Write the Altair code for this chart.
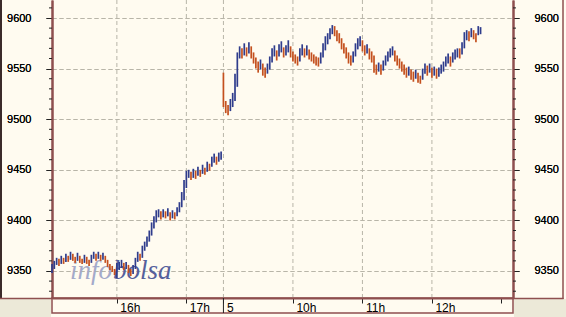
import altair as alt
import pandas as pd

# ---------------- data ----------------
# day 1 bars (2-minute bars), low / high
day1_lo = [9348, 9352, 9356, 9355, 9357, 9357, 9359, 9359, 9361, 9360,
           9358, 9360, 9358, 9357, 9358, 9357, 9355, 9358, 9362, 9360,
           9362, 9360, 9361, 9358, 9354, 9351, 9349, 9346, 9343, 9351,
           9353, 9351, 9352, 9348, 9345, 9347, 9352, 9359, 9360, 9363,
           9370, 9374, 9379, 9385, 9392, 9398, 9403, 9401, 9403, 9402,
           9404, 9400, 9402, 9401, 9404, 9408, 9413, 9420, 9432, 9442,
           9440, 9442, 9441, 9444, 9443, 9446, 9445, 9448, 9449, 9453,
           9457, 9455, 9458, 9460]
day1_hi = [9357, 9360, 9363, 9362, 9365, 9363, 9367, 9365, 9369, 9367,
           9364, 9368, 9365, 9362, 9366, 9364, 9361, 9366, 9369, 9367,
           9369, 9366, 9368, 9365, 9361, 9357, 9355, 9352, 9358, 9359,
           9361, 9358, 9359, 9356, 9352, 9356, 9363, 9369, 9367, 9375,
           9379, 9384, 9390, 9398, 9404, 9410, 9411, 9409, 9411, 9409,
           9412, 9408, 9410, 9408, 9413, 9418, 9428, 9440, 9449, 9450,
           9448, 9451, 9449, 9453, 9450, 9455, 9452, 9458, 9456, 9463,
           9466, 9463, 9467, 9468]
# day 2 bars
day2_lo = [9512, 9506, 9504, 9508, 9512, 9518, 9532, 9560, 9560, 9563,
           9562, 9565, 9560, 9555, 9550, 9546, 9549, 9543, 9541, 9545,
           9549, 9556, 9562, 9558, 9562, 9566, 9561, 9563, 9566, 9561,
           9557, 9555, 9553, 9557, 9563, 9561, 9563, 9559, 9557, 9555,
           9553, 9552, 9555, 9561, 9568, 9574, 9579, 9584, 9582, 9577,
           9575, 9569, 9565, 9560, 9555, 9553, 9556, 9562, 9569, 9572,
           9567, 9563, 9565, 9559, 9556, 9546, 9544, 9547, 9544, 9548,
           9553, 9557, 9561, 9563, 9557, 9553, 9550, 9547, 9544, 9541,
           9543, 9539, 9537, 9540, 9536, 9535, 9539, 9545, 9543, 9546,
           9541, 9543, 9540, 9542, 9545, 9547, 9552, 9555, 9552, 9556,
           9559, 9561, 9560, 9564, 9570, 9578, 9577, 9581, 9579, 9576,
           9583, 9584]
day2_hi = [9546, 9518, 9514, 9520, 9526, 9545, 9566, 9572, 9570, 9575,
           9571, 9576, 9572, 9566, 9561, 9557, 9559, 9555, 9551, 9555,
           9562, 9570, 9573, 9568, 9574, 9577, 9571, 9573, 9578, 9572,
           9567, 9564, 9562, 9570, 9574, 9570, 9573, 9569, 9566, 9564,
           9562, 9561, 9566, 9575, 9582, 9585, 9590, 9593, 9592, 9588,
           9585, 9580, 9575, 9571, 9566, 9563, 9567, 9575, 9580, 9582,
           9578, 9573, 9574, 9570, 9567, 9563, 9554, 9556, 9554, 9558,
           9563, 9567, 9570, 9572, 9568, 9563, 9560, 9557, 9554, 9551,
           9552, 9549, 9547, 9549, 9546, 9543, 9550, 9555, 9553, 9555,
           9551, 9552, 9550, 9551, 9554, 9557, 9562, 9565, 9562, 9566,
           9569, 9570, 9570, 9576, 9586, 9588, 9587, 9590, 9588, 9585,
           9592, 9591]

# time axis (minutes on a compressed session timeline)
day1_start = 0
day2_start = 148
bar_step = 2
x_domain = [0, 398]
tick_t = [56, 116, 148, 208, 268, 328, 388]
tick_lab = ["16h", "17h", "5", "10h", "11h", "12h", ""]
grid_t = [56, 116, 148, 208, 268, 328]
session_mark = [148]

y_domain = [9323.3, 9617.8]
y_major = [9350, 9400, 9450, 9500, 9550, 9600]
y_minor = [v for v in range(9330, 9620, 10) if v % 50 != 0]

# ---------------- styles ----------------
BG = "#FFFBF0"
GRAY = "#ECE9D8"
BROWN = "#8E4F4F"
DARK = "#3B2A2A"
TICK = "#222222"
GRID = "#B8B5A8"
BLUE = "#2F3C8C"
RED = "#C4501E"
FONT = "Liberation Sans"

# ---------------- build table ----------------
rows = []
for i, (lo, hi) in enumerate(zip(day1_lo, day1_hi)):
    rows.append({"t": day1_start + i * bar_step, "lo": lo, "hi": hi})
for i, (lo, hi) in enumerate(zip(day2_lo, day2_hi)):
    rows.append({"t": day2_start + i * bar_step, "lo": lo, "hi": hi})
df = pd.DataFrame(rows)
mid = (df["lo"] + df["hi"]) / 2
df["dir"] = ["u" if i == 0 or mid[i] >= mid[i - 1] else "d" for i in range(len(df))]
df.loc[df["t"] == day2_start, "dir"] = "d"

xs = alt.Scale(domain=x_domain, nice=False, zero=False)
ys = alt.Scale(domain=y_domain, nice=False, zero=False)

arr_t = "[" + ",".join(str(v) for v in tick_t) + "]"
arr_l = "[" + ",".join("'" + s + "'" for s in tick_lab) + "]"
label_expr = f"indexof({arr_t}, datum.value) >= 0 ? {arr_l}[indexof({arr_t}, datum.value)] : ''"

one = pd.DataFrame({"a": [0]})

x_axis = alt.Axis(values=tick_t, labelExpr=label_expr, grid=False, title=None,
                  tickSize=5, tickColor=TICK, tickWidth=1,
                  domainColor=BROWN, domainWidth=2,
                  labelAlign="left", labelBaseline="top", labelOffset=3, labelPadding=-1,
                  labelFont=FONT, labelFontSize=12, labelColor="#000000")

left_axis = alt.Axis(values=y_major, title=None, orient="left", format="d",
                     tickSize=6, tickColor=TICK, tickWidth=1,
                     domainColor=BROWN, domainWidth=2,
                     grid=True, gridColor=GRID, gridDash=[4, 3], gridWidth=1,
                     labelPadding=15, labelFont=FONT, labelFontSize=11, labelColor="#000000")

right_axis = alt.Axis(values=y_major, title=None, orient="right", format="d",
                      tickSize=6, tickColor=TICK, tickWidth=1,
                      domainColor=BROWN, domainWidth=2, grid=False,
                      labelPadding=15, labelFont=FONT, labelFontSize=11, labelColor="#000000")

# decorations
gray_left = alt.Chart(one).mark_rect(color=GRAY).encode(
    x=alt.value(-52), x2=alt.value(-1), y=alt.value(299), y2=alt.value(317))
gray_right = alt.Chart(one).mark_rect(color=GRAY).encode(
    x=alt.value(462), x2=alt.value(514), y=alt.value(299), y2=alt.value(317))
left_frame = alt.Chart(one).mark_rule(color=DARK, strokeWidth=2).encode(
    x=alt.value(-51), y=alt.value(0), y2=alt.value(299))
left_bottom = alt.Chart(one).mark_rule(color=BROWN, strokeWidth=1.5).encode(
    x=alt.value(-52), x2=alt.value(0), y=alt.value(298.5))
right_frame = alt.Chart(one).mark_rule(color=BROWN, strokeWidth=1.5).encode(
    x=alt.value(511), y=alt.value(0), y2=alt.value(299))
right_bottom = alt.Chart(one).mark_rule(color=BROWN, strokeWidth=1.5).encode(
    x=alt.value(461), x2=alt.value(511.5), y=alt.value(298.5))
strip = alt.Chart(one).mark_rect(fill=None, stroke=BROWN, strokeWidth=1.5).encode(
    x=alt.value(0), x2=alt.value(461), y=alt.value(298), y2=alt.value(313))

xgrid = alt.Chart(pd.DataFrame({"t": grid_t})).mark_rule(
    color=GRID, strokeDash=[4, 3], strokeWidth=1).encode(
    x=alt.X("t:Q", scale=xs, axis=x_axis))
sess = alt.Chart(pd.DataFrame({"t": session_mark})).mark_rule(
    color=TICK, strokeWidth=1).encode(
    x=alt.X("t:Q", scale=xs, axis=x_axis), y=alt.value(298), y2=alt.value(313))

wm_info = alt.Chart(one).mark_text(
    text="info", font="Liberation Serif", fontStyle="italic", fontSize=27,
    color="#A4AACA", align="left", baseline="alphabetic").encode(
    x=alt.value(18), y=alt.value(279))
wm_bolsa = alt.Chart(one).mark_text(
    text="bolsa", font="Liberation Serif", fontStyle="italic", fontSize=27,
    color="#55609C", align="left", baseline="alphabetic").encode(
    x=alt.value(61), y=alt.value(279))

bars = alt.Chart(df).mark_rule(strokeWidth=1.7).encode(
    x=alt.X("t:Q", scale=xs, axis=x_axis),
    y=alt.Y("lo:Q", scale=ys, axis=left_axis),
    y2="hi:Q",
    color=alt.Color("dir:N", scale=alt.Scale(domain=["u", "d"], range=[BLUE, RED]), legend=None),
)

right_layer = alt.Chart(pd.DataFrame({"v": y_major})).mark_point(opacity=0).encode(
    y=alt.Y("v:Q", scale=ys, axis=right_axis))

minor_df = pd.DataFrame({"v": y_minor})
minor_left = alt.Chart(minor_df).mark_rule(color=TICK, strokeWidth=1).encode(
    y=alt.Y("v:Q", scale=ys, axis=left_axis), x=alt.value(-3), x2=alt.value(0))
minor_right = alt.Chart(minor_df).mark_rule(color=TICK, strokeWidth=1).encode(
    y=alt.Y("v:Q", scale=ys, axis=right_axis), x=alt.value(461), x2=alt.value(464))

chart = alt.layer(
    gray_left, gray_right, xgrid, wm_info, wm_bolsa, bars, right_layer,
    minor_left, minor_right, strip, sess, left_frame, left_bottom, right_frame, right_bottom
).resolve_scale(y="shared").resolve_axis(y="independent").properties(
    width=461, height=298,
    padding={"left": 52, "right": 53, "top": 0, "bottom": 19},
    autosize=alt.AutoSizeParams(type="none"),
).configure(background=BG).configure_view(stroke=None)

chart.save("out.html", embed_options={"renderer": "svg", "actions": False})
